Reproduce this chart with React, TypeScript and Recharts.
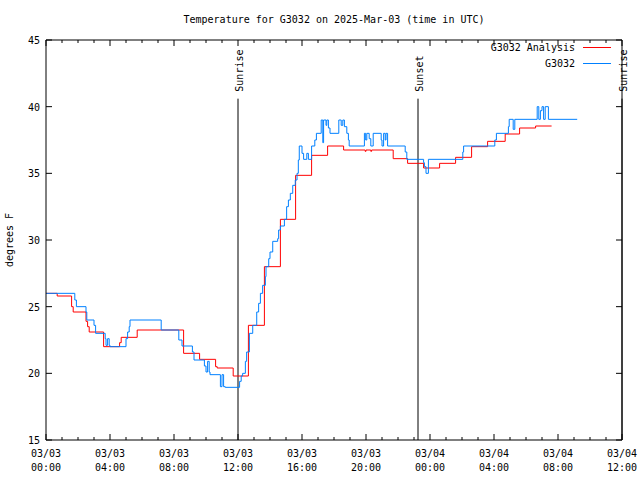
import React from "react";
import { LineChart, Line, XAxis, YAxis, ReferenceLine } from "recharts";

const FONT = "'DejaVu Sans Mono', monospace";
const TITLE = "Temperature for G3032 on 2025-Mar-03 (time in UTC)";
const Y_LABEL = "degrees F";

// x values are hours since 03/03 00:00 UTC
const HOUR_TICKS = [0, 1, 2, 3, 4, 5, 6, 7, 8, 9, 10, 11, 12, 13, 14, 15, 16, 17, 18, 19, 20, 21, 22, 23, 24, 25, 26, 27, 28, 29, 30, 31, 32, 33, 34, 35, 36];
const LABEL_TICKS = [0, 4, 8, 12, 16, 20, 24, 28, 32, 36];
const TICK_DATES = ["03/03", "03/03", "03/03", "03/03", "03/03", "03/03", "03/04", "03/04", "03/04", "03/04"];
const TICK_TIMES = ["00:00", "04:00", "08:00", "12:00", "16:00", "20:00", "00:00", "04:00", "08:00", "12:00"];
const Y_TICKS = [15, 20, 25, 30, 35, 40, 45];

const SUN_NAMES = ["Sunrise", "Sunset", "Sunrise"];
const SUN_HOURS = [12, 23.25, 36];

const SERIES_NAMES = ["G3032 Analysis", "G3032"];
const SERIES_COLORS = ["#ff0000", "#0080ff"];

// G3032 Analysis (red)
const analysisHours = [0, 0.7, 1.6, 1.7, 2.5, 2.6, 2.7, 3.6, 4.6, 4.7, 5.7, 8.6, 9.6, 10.6, 10.7, 11.7, 12.65, 13.65, 14.65, 15.6, 16.6, 17.6, 18.6, 19.95, 20.0, 20.3, 20.35, 21.7, 22.6, 23.6, 24.6, 25.6, 26.6, 27.6, 28.7, 29.6, 30.6, 31.6];
const analysisTemps = [26.0, 25.8, 25.0, 24.6, 23.9, 23.5, 23.1, 22.0, 22.3, 22.7, 23.25, 21.5, 21.05, 20.5, 20.4, 19.8, 23.6, 28.0, 31.55, 34.85, 36.35, 37.05, 36.75, 36.65, 36.75, 36.65, 36.75, 36.1, 35.75, 35.4, 35.75, 36.2, 37.0, 37.4, 37.95, 38.4, 38.55, 38.55];

// G3032 station obs (blue)
const stationHours = [0, 1.8, 1.9, 2.5, 2.55, 3.0, 3.1, 3.7, 3.75, 3.85, 3.95, 4.0, 5.0, 5.1, 5.2, 5.25, 7.2, 8.3, 8.5, 9.15, 9.25, 9.9, 10.0, 10.1, 10.2, 10.25, 10.9, 11.0, 11.1, 11.2, 12.1, 12.2, 12.29, 12.46, 12.54, 12.71, 12.92, 13.17, 13.29, 13.4, 13.54, 13.71, 13.75, 13.92, 14.0, 14.17, 14.48, 14.54, 14.65, 14.9, 15.04, 15.15, 15.27, 15.42, 15.58, 15.69, 15.77, 15.83, 16.0, 16.1, 16.3, 16.4, 16.6, 16.8, 16.9, 17.2, 17.3, 17.35, 17.5, 17.55, 17.65, 17.75, 18.3, 18.45, 18.55, 18.65, 18.8, 18.9, 18.95, 19.9, 19.98, 20.05, 20.2, 20.3, 20.45, 20.95, 21.0, 21.1, 21.2, 21.25, 21.35, 22.45, 22.55, 23.6, 23.65, 23.75, 23.9, 26.05, 26.1, 28.05, 28.15, 28.9, 28.95, 29.2, 29.3, 30.7, 30.8, 30.9, 31.0, 31.1, 31.2, 31.4, 33.2];
const stationTemps = [26.0, 25.5, 25.0, 24.6, 24.0, 23.6, 23.0, 22.6, 22.1, 22.6, 22.1, 22.0, 22.6, 23.1, 23.5, 24.0, 23.25, 22.5, 22.05, 21.6, 21.0, 20.55, 20.1, 20.9, 20.1, 19.9, 19.0, 19.9, 19.0, 18.95, 19.4, 19.8, 20.0, 20.9, 21.6, 23.0, 23.6, 24.6, 25.25, 26.0, 26.6, 27.25, 28.0, 28.6, 29.1, 29.9, 30.1, 30.75, 31.05, 31.55, 32.5, 33.0, 33.5, 34.1, 34.5, 35.0, 36.0, 37.05, 36.5, 36.05, 36.5, 36.05, 37.05, 37.5, 38.0, 39.0, 37.3, 39.0, 38.6, 39.0, 38.4, 38.0, 39.0, 38.6, 39.0, 38.5, 38.0, 37.5, 37.05, 38.0, 37.5, 38.0, 37.6, 37.05, 38.0, 37.5, 37.05, 38.0, 37.5, 38.0, 37.05, 36.6, 36.05, 35.8, 35.5, 35.0, 36.05, 36.6, 37.05, 37.5, 38.0, 38.5, 39.05, 38.3, 39.05, 40.0, 39.05, 39.7, 40.0, 39.05, 40.0, 39.05, 39.05];

const analysisData = analysisHours.map((t, i) => ({ t, v: analysisTemps[i] }));
const stationData = stationHours.map((t, i) => ({ t, v: stationTemps[i] }));

const txt = { fontFamily: FONT, fontSize: 10, fill: "#000" };

function BottomTick({ x, y, payload }: any) {
  const i = LABEL_TICKS.indexOf(payload.value);
  return (
    <g>
      <line x1={x} x2={x} y1={y} y2={y - (i >= 0 ? 6 : 3)} stroke="#000" />
      {i >= 0 && (
        <text x={x} y={y + 17} textAnchor="middle" {...txt}>
          {TICK_DATES[i]}
        </text>
      )}
      {i >= 0 && (
        <text x={x} y={y + 31} textAnchor="middle" {...txt}>
          {TICK_TIMES[i]}
        </text>
      )}
    </g>
  );
}

function TopTick({ x, y, payload }: any) {
  const major = LABEL_TICKS.includes(payload.value);
  return <line x1={x} x2={x} y1={y} y2={y + (major ? 6 : 3)} stroke="#000" />;
}

function LeftTick({ x, y, payload }: any) {
  return (
    <g>
      <line x1={x} x2={x + 6} y1={y} y2={y} stroke="#000" />
      <text x={x - 6} y={y + 4} textAnchor="end" {...txt}>
        {payload.value}
      </text>
    </g>
  );
}

function RightTick({ x, y }: any) {
  return <line x1={x} x2={x - 6} y1={y} y2={y} stroke="#000" />;
}

function SunLabel({ viewBox, text }: any) {
  const x = viewBox.x + 5;
  const y = viewBox.y - 7;
  return (
    <text x={x} y={y} transform={`rotate(-90 ${x} ${y})`} textAnchor="start" {...txt}>
      {text}
    </text>
  );
}

function YLabel({ viewBox }: any) {
  const x = viewBox.x + 13;
  const y = viewBox.y + viewBox.height / 2;
  return (
    <text x={x} y={y} transform={`rotate(-90 ${x} ${y})`} textAnchor="middle" {...txt}>
      {Y_LABEL}
    </text>
  );
}

// key in the top right corner, gnuplot style
function Key() {
  return (
    <svg width={640} height={80} style={{ position: "absolute", left: 0, top: 0, pointerEvents: "none" }}>
      {SERIES_NAMES.map((name, i) => (
        <g key={name}>
          <text x={575} y={51 + i * 16} textAnchor="end" {...txt}>
            {name}
          </text>
          <line x1={583} x2={611} y1={47.5 + i * 16} y2={47.5 + i * 16} stroke={SERIES_COLORS[i]} strokeWidth={1} />
        </g>
      ))}
    </svg>
  );
}

export default function App() {
  return (
    <div style={{ position: "absolute", left: 0, top: 0, width: 640, height: 480, background: "#fff" }}>
      <div
        style={{
          position: "absolute",
          left: 46,
          top: 13,
          width: 576,
          textAlign: "center",
          fontFamily: FONT,
          fontSize: 10,
          lineHeight: "14px",
        }}
      >
        {TITLE}
      </div>
      <LineChart width={640} height={480} margin={{ top: 39, right: 17, bottom: 0, left: 0 }}>
        <XAxis
          dataKey="t"
          type="number"
          domain={[0, 36]}
          ticks={HOUR_TICKS}
          interval={0}
          height={40}
          allowDataOverflow
          tickSize={0}
          tickMargin={0}
          axisLine={{ stroke: "#000" }}
          tickLine={false}
          tick={<BottomTick />}
        />
        <XAxis
          xAxisId="top"
          orientation="top"
          dataKey="t"
          type="number"
          domain={[0, 36]}
          ticks={HOUR_TICKS}
          interval={0}
          height={1}
          allowDataOverflow
          tickSize={0}
          tickMargin={0}
          axisLine={{ stroke: "#000" }}
          tickLine={false}
          tick={<TopTick />}
        />
        <YAxis
          type="number"
          domain={[15, 45]}
          ticks={Y_TICKS}
          interval={0}
          width={46}
          allowDataOverflow
          tickSize={0}
          tickMargin={0}
          axisLine={{ stroke: "#000" }}
          tickLine={false}
          tick={<LeftTick />}
          label={<YLabel />}
        />
        <YAxis
          yAxisId="right"
          orientation="right"
          type="number"
          domain={[15, 45]}
          ticks={Y_TICKS}
          interval={0}
          width={1}
          allowDataOverflow
          tickSize={0}
          tickMargin={0}
          axisLine={{ stroke: "#000" }}
          tickLine={false}
          tick={<RightTick />}
        />
        {SUN_HOURS.map((h, i) => (
          <ReferenceLine
            key={i}
            segment={[
              { x: h, y: 40.6 },
              { x: h, y: 15 },
            ]}
            stroke="#000"
            strokeWidth={1}
            label={<SunLabel text={SUN_NAMES[i]} />}
          />
        ))}
        <Line
          data={analysisData}
          dataKey="v"
          name={SERIES_NAMES[0]}
          type="stepAfter"
          stroke={SERIES_COLORS[0]}
          strokeWidth={1}
          dot={false}
          activeDot={false}
          isAnimationActive={false}
        />
        <Line
          data={stationData}
          dataKey="v"
          name={SERIES_NAMES[1]}
          type="stepAfter"
          stroke={SERIES_COLORS[1]}
          strokeWidth={1}
          dot={false}
          activeDot={false}
          isAnimationActive={false}
        />
      </LineChart>
      <Key />
    </div>
  );
}
